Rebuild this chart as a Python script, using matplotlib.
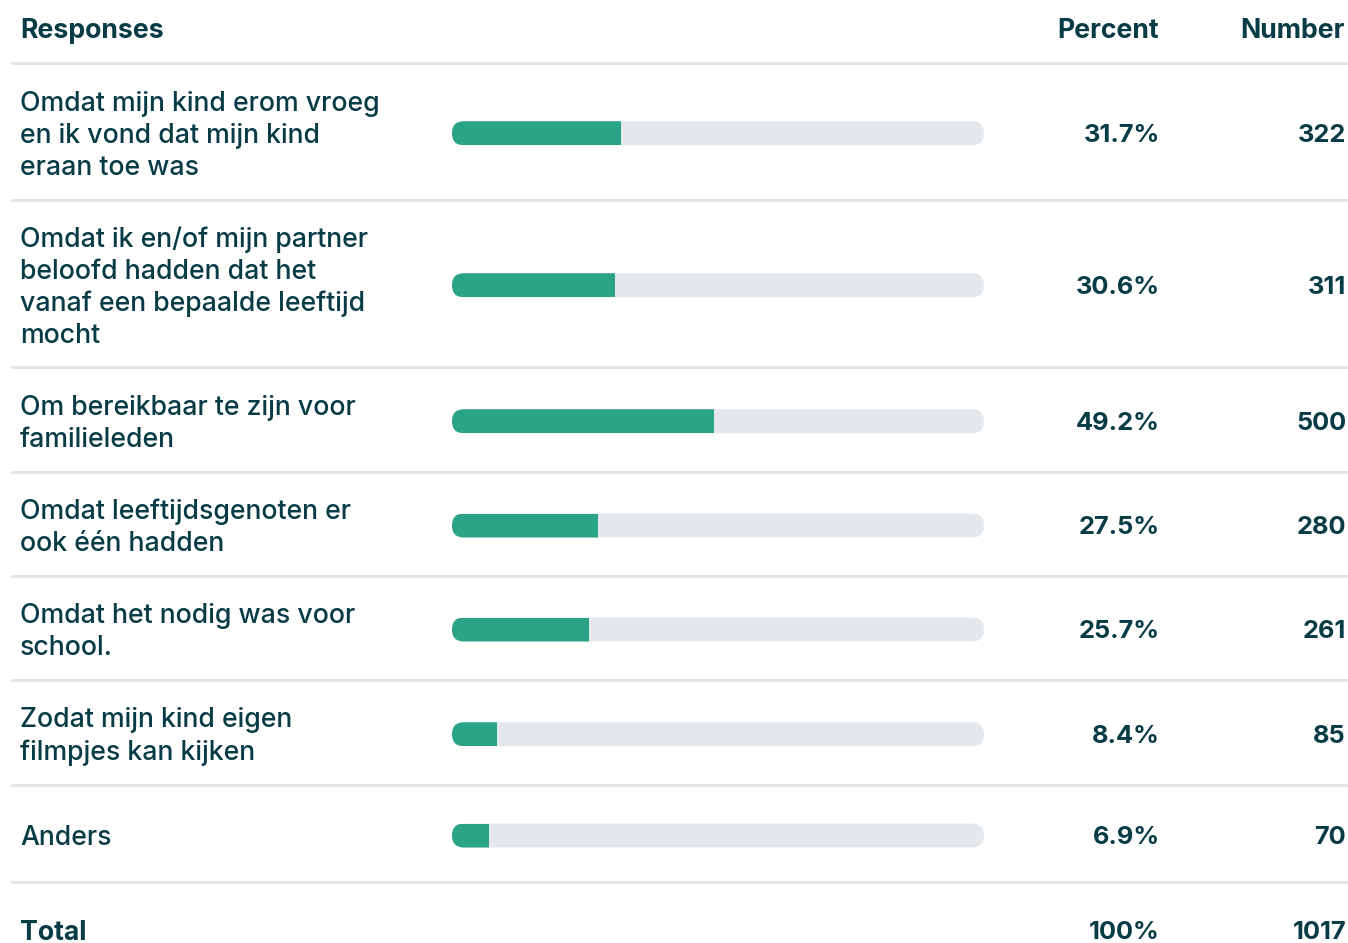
import matplotlib.pyplot as plt
from matplotlib.patches import FancyBboxPatch

plt.rcParams["font.family"] = ["Inter", "DejaVu Sans"]

responses = [
    "Omdat mijn kind erom vroeg\nen ik vond dat mijn kind\neraan toe was",
    "Omdat ik en/of mijn partner\nbeloofd hadden dat het\nvanaf een bepaalde leeftijd\nmocht",
    "Om bereikbaar te zijn voor\nfamilieleden",
    "Omdat leeftijdsgenoten er\nook één hadden",
    "Omdat het nodig was voor\nschool.",
    "Zodat mijn kind eigen\nfilmpjes kan kijken",
    "Anders",
]
percents = [31.7, 30.6, 49.2, 27.5, 25.7, 8.4, 6.9]
numbers = [322, 311, 500, 280, 261, 85, 70]
total_label = "100%"
total_number = 1017

TEXT = "#073b45"
GREEN = "#2ba386"
TRACK = "#e4e8eb"
RULE = "#e3e7eb"

W, H = 1348, 943
# layout (pixels): separator rules and row centres
rules = [63, 199.5, 367, 471.5, 575.5, 679.5, 785, 882]
centers = [(a + b) / 2 + 2 for a, b in zip(rules[:-1], rules[1:])]
BAR_X0, BAR_X1, BAR_H = 452, 984, 24
PCT_X, NUM_X = 1160, 1346
DY = 2.5  # text nudge so glyphs sit centred like the reference

fig = plt.figure(figsize=(W / 100, H / 100), dpi=100)
ax = fig.add_axes([0, 0, 1, 1])
ax.set_xlim(0, W)
ax.set_ylim(H, 0)
ax.axis("off")

fs = 19.2
fv = 18.3
ax.text(20, 29 + DY, "Responses", fontsize=fs, fontweight="bold", color=TEXT, va="center", ha="left")
ax.text(PCT_X - 1, 29 + DY, "Percent", fontsize=fs, fontweight="bold", color=TEXT, va="center", ha="right")
ax.text(NUM_X - 1, 29 + DY, "Number", fontsize=fs, fontweight="bold", color=TEXT, va="center", ha="right")

for y in rules:
    ax.plot([10, W], [y, y], color=RULE, lw=2.3, solid_capstyle="butt")

for yc, label, p, n in zip(centers, responses, percents, numbers):
    ax.text(20, yc + DY, label, fontsize=fs, fontweight="medium", color=TEXT,
            va="center", ha="left", linespacing=1.3)
    ax.text(PCT_X, yc + DY, f"{p:.1f}%", fontsize=fv, fontweight="bold", color=TEXT, va="center", ha="right")
    ax.text(NUM_X, yc + DY, f"{n}", fontsize=fv, fontweight="bold", color=TEXT, va="center", ha="right")

ty = 930 + DY
ax.text(20, ty, "Total", fontsize=fs, fontweight="bold", color=TEXT, va="center", ha="left")
ax.text(PCT_X, ty, total_label, fontsize=fv, fontweight="bold", color=TEXT, va="center", ha="right")
ax.text(NUM_X, ty, f"{total_number}", fontsize=fv, fontweight="bold", color=TEXT, va="center", ha="right")

# bars: x axis 0-100 % spans the track
bx = fig.add_axes([BAR_X0 / W, 0, (BAR_X1 - BAR_X0) / W, 1])
bx.set_xlim(0, 100)
bx.set_ylim(H, 0)
bx.axis("off")
aspect = (BAR_X1 - BAR_X0) / 100
bars = bx.barh(centers, percents, height=BAR_H, color=GREEN, zorder=3)
for yc, bar in zip(centers, bars):
    track = FancyBboxPatch((0, yc - BAR_H / 2), 100, BAR_H,
                           boxstyle=f"round,pad=0,rounding_size={BAR_H / 2 / aspect}",
                           mutation_aspect=aspect, facecolor=TRACK, edgecolor="none", zorder=2)
    bx.add_patch(track)
    bar.set_clip_path(track)

fig.savefig("out.png", dpi=100)
